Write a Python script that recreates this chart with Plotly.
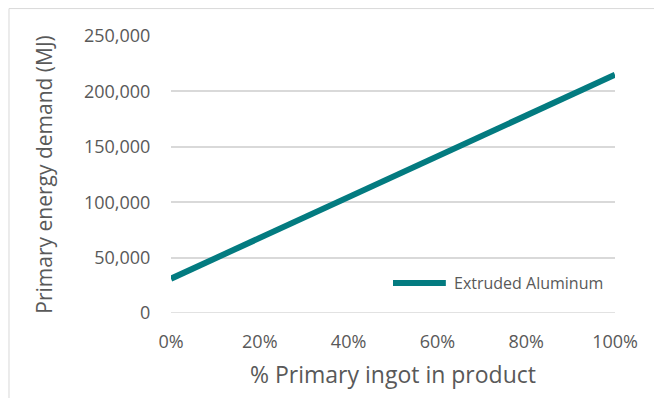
import plotly.graph_objects as go

pct_primary = [0.0, 0.2, 0.4, 0.6, 0.8, 1.0]
energy_mj = [31000, 68000, 105000, 141000, 178000, 215000]
series_name = "Extruded Aluminum"
y_ticks = [0, 50000, 100000, 150000, 200000, 250000]
x_ticks = [0.0, 0.2, 0.4, 0.6, 0.8, 1.0]

FONT = "Open Sans"
GRAY = "#595959"
TEAL = "#037B80"

fig = go.Figure()
fig.add_trace(go.Scatter(
    x=pct_primary, y=energy_mj, mode="lines", name=series_name,
    line=dict(color=TEAL, width=6), showlegend=False,
))

fig.update_layout(
    width=662, height=398,
    margin=dict(l=163, r=55, t=28, b=93),
    paper_bgcolor="white", plot_bgcolor="white",
    font=dict(family=FONT, color=GRAY, size=18),
    xaxis=dict(range=[0, 1], tickvals=x_ticks, tickformat=".0%",
               showgrid=False, zeroline=False, showline=False,
               ticks="outside", ticklen=12, tickcolor="rgba(0,0,0,0)",
               tickfont=dict(size=18, color=GRAY),
               title=dict(text="% Primary ingot in product", font=dict(size=23, color=GRAY), standoff=15)),
    yaxis=dict(range=[0, 250000], tickvals=y_ticks, tickformat=",d",
               showgrid=True, gridcolor="#D9D9D9", gridwidth=1.5,
               zeroline=False, showline=False,
               ticks="outside", ticklen=16, tickcolor="rgba(0,0,0,0)",
               tickfont=dict(size=18, color=GRAY),
               title=dict(text="Primary energy demand (MJ)", font=dict(size=21, color=GRAY), standoff=25)),
)
# x baseline
fig.add_shape(type="line", xref="x", yref="y", x0=0, x1=1, y0=0, y1=0,
              line=dict(color="#D9D9D9", width=1.5), layer="below")
# chart border
fig.add_shape(type="rect", xref="paper", yref="paper",
              x0=-0.3649, x1=1.3, y0=-0.4, y1=1.099,
              line=dict(color="#D9D9D9", width=1))
# legend
fig.add_shape(type="line", xref="paper", yref="paper",
              x0=0.5, x1=0.619, y0=0.1083, y1=0.1083,
              line=dict(color=TEAL, width=6))
fig.add_annotation(xref="paper", yref="paper", x=0.633, y=0.1083,
                   text=series_name, showarrow=False, xanchor="left", yanchor="middle",
                   font=dict(size=16, color=GRAY))

fig.write_html("out.html")
